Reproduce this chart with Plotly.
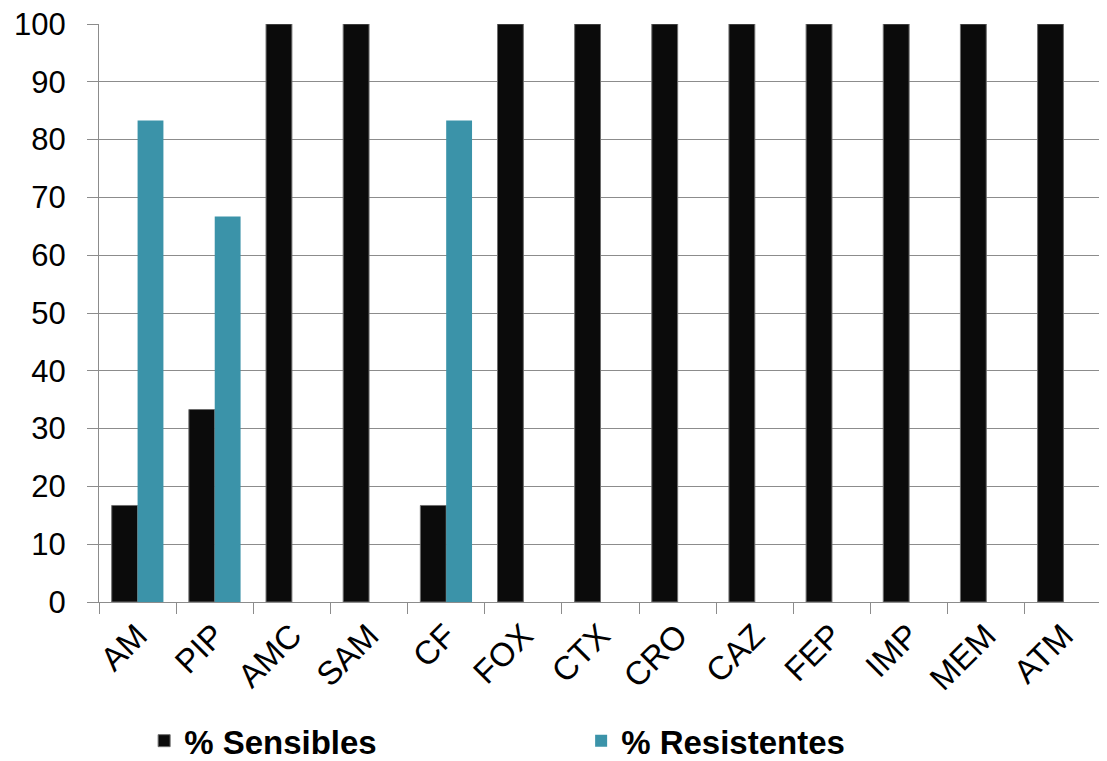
import plotly.graph_objects as go

categories = ["AM", "PIP", "AMC", "SAM", "CF", "FOX", "CTX", "CRO", "CAZ", "FEP", "IMP", "MEM", "ATM"]
sensibles = [16.7, 33.3, 100, 100, 16.7, 100, 100, 100, 100, 100, 100, 100, 100]
resistentes = [83.3, 66.7, 0, 0, 83.3, 0, 0, 0, 0, 0, 0, 0, 0]
y_ticks = [0, 10, 20, 30, 40, 50, 60, 70, 80, 90, 100]

FONT = "Liberation Sans, Arial, sans-serif"
GRID = "#8c8c8c"

fig = go.Figure()
fig.add_trace(go.Bar(
    x=categories, y=sensibles, name="% Sensibles",
    marker=dict(color="#0b0b0b", line=dict(color="#6e6e6e", width=1)),
))
fig.add_trace(go.Bar(
    x=categories, y=resistentes, name="% Resistentes",
    marker=dict(color="#3b93a9", line=dict(width=0)),
))

fig.update_layout(
    width=1099, height=753,
    margin=dict(l=91, r=5, t=16, b=159, autoexpand=False),
    paper_bgcolor="white", plot_bgcolor="white",
    barmode="group", bargap=0.33, bargroupgap=0.0,
    font=dict(family=FONT, size=30, color="black"),
    showlegend=True,
    legend=dict(
        orientation="h", x=0.045, xanchor="left", y=-0.24, yanchor="middle",
        font=dict(family=FONT, size=33, color="black", weight="bold"),
        entrywidth=392, entrywidthmode="pixels",
        itemwidth=30, bgcolor="rgba(0,0,0,0)",
    ),
)
fig.update_xaxes(
    type="category", tickangle=-45, tickson="boundaries",
    ticks="outside", ticklen=11, tickcolor=GRID, tickwidth=1,
    showline=True, linecolor=GRID, linewidth=1, automargin=False,
    showgrid=False, tickfont=dict(family=FONT, size=33),
    ticklabeloverflow="allow",
)
fig.update_yaxes(
    range=[0, 100], tickvals=y_ticks, automargin=False,
    ticks="outside", ticklen=11, tickcolor=GRID, tickwidth=1,
    showline=True, linecolor=GRID, linewidth=1,
    showgrid=True, gridcolor=GRID, gridwidth=1,
    zeroline=False, ticklabelstandoff=15,
    tickfont=dict(family=FONT, size=31),
    ticklabeloverflow="allow",
)

fig.write_html("out.html")
